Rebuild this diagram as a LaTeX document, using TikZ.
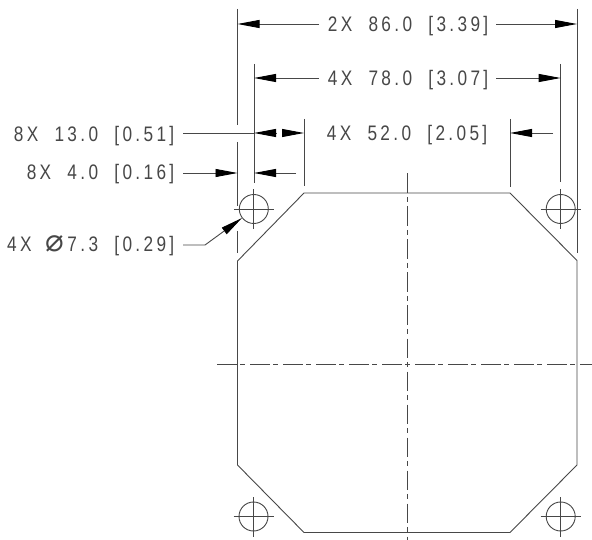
\documentclass[tikz,border=0pt]{standalone}
\usepackage{fontspec}
\setmainfont{Liberation Sans}
\newfontfamily\dimfont[FakeStretch=0.82,LetterSpace=16,WordSpace=2.0]{Liberation Sans}
\newfontfamily\symfont{DejaVu Sans}
\usetikzlibrary{arrows.meta}
\definecolor{ink}{gray}{0.28}
\tikzset{
  thin line/.style={draw=ink,line width=0.9pt},
  dimline/.style={thin line,-{Triangle[length=22pt,width=8pt,color=black]},shorten >=0pt},
  centerline/.style={thin line,dash pattern=on 19.5pt off 3.8pt on 5pt off 4.7pt},
  outline/.style={thin line,line join=miter},
  hole/.style={circle,draw=ink,line width=0.9pt,minimum size=29pt,inner sep=0pt},
  dimtext/.style={anchor=base east,inner sep=0pt,text=ink,font=\dimfont\fontsize{21}{21}\selectfont},
}
\newcommand{\crosshair}[1]{%
  \draw[thin line] ([xshift=-20pt]#1.center) -- ([xshift=20pt]#1.center);
  \draw[thin line] ([yshift=-20pt]#1.center) -- ([yshift=19.5pt]#1.center);}
\begin{document}
\begin{tikzpicture}[x=1pt,y=-1pt]
\useasboundingbox (0,0) rectangle (592,540);
\fill[white] (0,0) rectangle (592,540);

% outline
\draw[outline] (304,193) -- (510,193) -- (577,260.5) -- (577,465) -- (510,532.5)
  -- (304,532.5) -- (237.5,465) -- (237.5,261) -- cycle;

% centre lines
\draw[centerline] (407,173.5) -- (407,540);
\draw[centerline] (217,364) -- (592,364);

% holes
\node[hole] (tl) at (253.8,209) {};
\node[hole] (tr) at (560.7,209) {};
\node[hole] (bl) at (253.5,516.5) {};
\node[hole] (br) at (560.7,516.5) {};
\crosshair{tl}\crosshair{tr}\crosshair{bl}\crosshair{br}

% extension lines
\draw[thin line] (237.5,9) -- (237.5,125.5);
\draw[thin line] (237.5,142) -- (237.5,206);
\draw[thin line] (237.5,231) -- (237.5,253);
\draw[thin line] (577,9) -- (577,253);
\draw[thin line] (254,64) -- (254,183);
\draw[thin line] (560.7,64) -- (560.7,182);
\draw[thin line] (304,119) -- (304,186);
\draw[thin line] (510,119) -- (510,187);

% texts
\node[dimtext] (a) at (488.5,32) {2X 86.0 [3.39]};
\node[dimtext] (b) at (488.5,85.5) {4X 78.0 [3.07]};
\node[dimtext] (c) at (487.5,141) {4X 52.0 [2.05]};
\node[dimtext] (d) at (174.5,141.5) {8X 13.0 [0.51]};
\node[dimtext] (e) at (174.5,180) {8X 4.0 [0.16]};
\node[dimtext] (f) at (174.5,252) {4X\kern-2pt\ {\symfont\fontsize{31}{31}\selectfont ⌀}\kern3pt 7.3 [0.29]};

% dimensions
\coordinate (a1) at (237.5,24); \coordinate (a2) at (577,24);
\coordinate (a3) at (319,24);   \coordinate (a4) at (496,24);
\draw[dimline] (a3) -- (a1);
\draw[dimline] (a4) -- (a2);
\coordinate (b1) at (254,78); \coordinate (b2) at (560.7,78);
\coordinate (b3) at (319,78); \coordinate (b4) at (496,78);
\draw[dimline] (b3) -- (b1);
\draw[dimline] (b4) -- (b2);
\coordinate (c1) at (183,133); \coordinate (c2) at (254,133);
\coordinate (c3) at (276,133); \coordinate (c4) at (283,133);
\coordinate (c5) at (304,133); \coordinate (c6) at (553,133);
\coordinate (c7) at (510,133);
\draw[thin line] (c1) -- (c2);
\draw[dimline] (c3) -- (c2);
\draw[dimline] (c4) -- (c5);
\draw[dimline] (c6) -- (c7);
\coordinate (d1) at (183,173); \coordinate (d2) at (237.5,173);
\coordinate (d3) at (296,173); \coordinate (d4) at (254,173);
\draw[dimline] (d1) -- (d2);
\draw[dimline] (d3) -- (d4);
\coordinate (l1) at (183,245); \coordinate (l2) at (205,245);
\coordinate (l3) at (242,218);
\draw[dimline] (l1) -- (l2) -- (l3);
\end{tikzpicture}
\end{document}
